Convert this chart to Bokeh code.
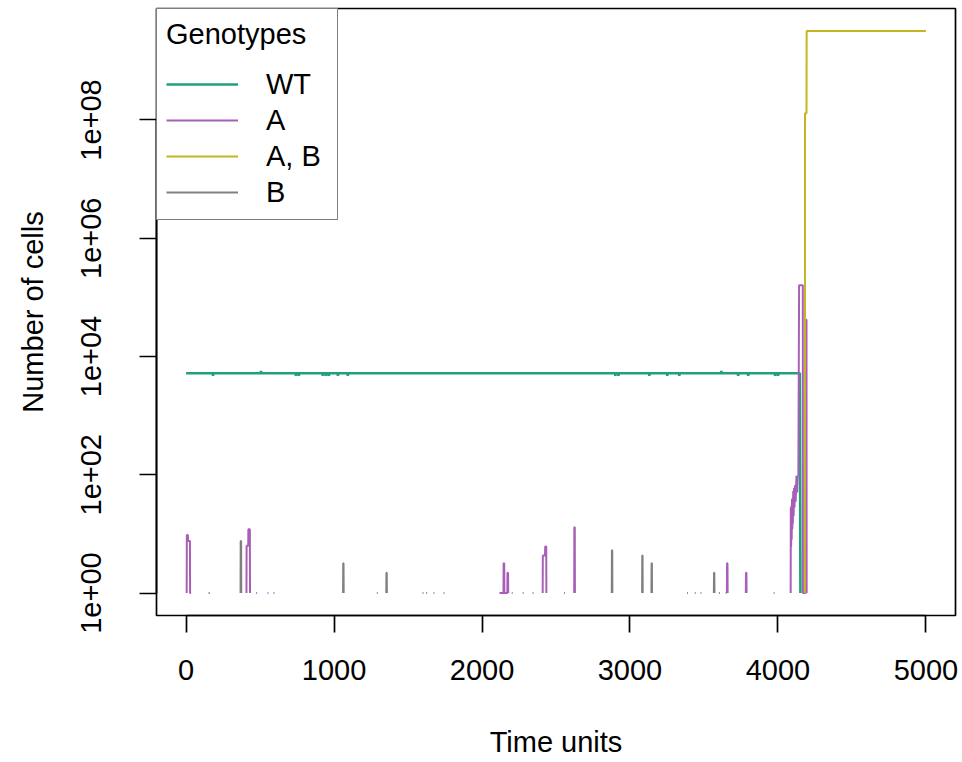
from bokeh.plotting import figure
from bokeh.models import Range1d, FixedTicker, CustomJSTickFormatter, Legend, LegendItem
from bokeh.embed import file_html
from bokeh.resources import INLINE

nan = float("nan")

# ---------------- data ----------------
genotypes = ["WT", "A", "A, B", "B"]
colors = ["#1FA07E", "#A95FB8", "#C8B41E", "#808080"]

x_ticks = [0, 1000, 2000, 3000, 4000, 5000]
y_ticks = [1, 1e2, 1e4, 1e6, 1e8]

wt_time = [0, 180, 182, 184, 504, 506, 508, 740, 742, 744, 760, 762, 764,
           922, 924, 926, 943, 945, 947, 963, 965, 967, 1024, 1026, 1028,
           1091, 1093, 1095, 2899, 2901, 2903, 2920, 2922, 2924, 3129, 3131, 3133,
           3250, 3252, 3254, 3331, 3333, 3335, 3616, 3618, 3620, 3729, 3731, 3733,
           3797, 3799, 3801, 3979, 3981, 3983, 3999, 4001, 4003, 4148, 4152]
wt_cells = [5200, 5200, 4700, 5200, 5200, 5700, 5200, 5200, 4700, 5200, 5200, 4700, 5200,
            5200, 4700, 5200, 5200, 4700, 5200, 5200, 4700, 5200, 5200, 4700, 5200,
            5200, 4700, 5200, 5200, 4700, 5200, 5200, 4700, 5200, 5200, 4700, 5200,
            5200, 4700, 5200, 5200, 4700, 5200, 5200, 5700, 5200, 5200, 4700, 5200,
            5200, 4700, 5200, 5200, 4700, 5200, 5200, 4700, 5200, 5200, 1]

a_time = [4, 5, 12, 13, 26, 27, 34, nan,
          152, 160, nan,
          408, 409, 420, 421, 431, 432, nan,
          474, 480, nan,
          550, 556, nan,
          1598, 1604, nan,
          1623, 1629, nan,
          2118, 2145, 2146, 2150, 2151, 2171, 2172, 2176, 2177, nan,
          2201, 2207, nan,
          2275, 2281, nan,
          2410, 2411, 2426, 2427, 2434, 2435, nan,
          2623, 2624, 2627, 2628, nan,
          3386, 3392, nan,
          3438, 3444, nan,
          3602, 3608, nan,
          3655, 3656, 3659, 3660, nan,
          3783, 3784, 3787, 3788, nan,
          4086, 4087, 4089, 4091, 4093, 4095, 4097, 4099, 4101, 4103, 4106, 4109,
          4112, 4116, 4120, 4125, 4130, 4134, 4138, 4143, 4168, 4169, 4189, 4190,
          4193, 4194, nan]
a_cells = [1, 9.6, 9.6, 7.6, 7.6, 1, 1, nan,
           1, 1, nan,
           1, 6.3, 6.3, 12, 12, 1, nan,
           1, 1, nan,
           1, 1, nan,
           1, 1, nan,
           1, 1, nan,
           1, 1, 3.2, 3.2, 1, 1, 2.2, 2.2, 1, nan,
           1, 1, nan,
           1, 1, nan,
           1, 4.3, 4.3, 6.1, 6.1, 1, nan,
           1, 12.9, 12.9, 1, nan,
           1, 1, nan,
           1, 1, nan,
           1, 1, nan,
           1, 3.2, 3.2, 1, nan,
           1, 2.2, 2.2, 1, nan,
           1, 28, 6, 30, 8, 39, 12, 40, 15, 53, 20, 60,
           28, 67, 35, 96, 50, 96, 96, 1.6e5, 1.6e5, 1, 1, 4.2e4,
           4.2e4, 1, nan]

ab_time = [4182, 4183, 4193, 4194, 5000]
ab_cells = [1, 1.3e8, 1.3e8, 3.2e9, 3.2e9]

b_time = [368, 369, 372, 373, nan,
          591, 597, nan,
          1061, 1062, 1064, 1065, nan,
          1289, 1295, nan,
          1353, 1354, 1356, 1357, nan,
          1672, 1678, nan,
          1740, 1746, nan,
          2342, 2348, nan,
          2554, 2560, nan,
          2877, 2878, 2880, 2881, nan,
          3082, 3083, 3085, 3086, nan,
          3145, 3146, 3148, 3149, nan,
          3477, 3483, nan,
          3567, 3568, 3570, 3571, nan,
          3647, 3653, nan,
          3971, 3977, nan]
b_cells = [1, 7.6, 7.6, 1, nan,
           1, 1, nan,
           1, 3.2, 3.2, 1, nan,
           1, 1, nan,
           1, 2.2, 2.2, 1, nan,
           1, 1, nan,
           1, 1, nan,
           1, 1, nan,
           1, 1, nan,
           1, 5.3, 5.3, 1, nan,
           1, 4.3, 4.3, 1, nan,
           1, 3.2, 3.2, 1, nan,
           1, 1, nan,
           1, 2.2, 2.2, 1, nan,
           1, 1, nan,
           1, 1, nan]

series = [(wt_time, wt_cells), (a_time, a_cells), (ab_time, ab_cells), (b_time, b_cells)]
widths = [2.6, 2, 2, 2]

# ---------------- figure ----------------
FONT = "Liberation Sans"
FS = "29px"

p = figure(width=958, height=760, output_backend="svg", toolbar_location=None,
           y_axis_type="log",
           x_range=Range1d(-200, 5200), y_range=Range1d(10 ** -0.38, 10 ** 9.885),
           min_border_left=156, min_border_right=3, min_border_top=8, min_border_bottom=143,
           x_axis_label="Time units", y_axis_label="Number of cells")
p.xgrid.visible = False
p.ygrid.visible = False
p.outline_line_color = "black"
p.outline_line_width = 1.7
p.background_fill_color = "white"
p.border_fill_color = "white"

for ax in (p.xaxis[0], p.yaxis[0]):
    ax.axis_line_color = "black"
    ax.axis_line_width = 1.7
    ax.major_tick_line_color = "black"
    ax.major_tick_line_width = 1.7
    ax.major_tick_in = 0
    ax.major_tick_out = 17
    ax.minor_tick_line_color = None
    ax.major_label_text_font = FONT
    ax.major_label_text_font_size = FS
    ax.major_label_text_color = "black"
    ax.axis_label_text_font = FONT
    ax.axis_label_text_font_size = FS
    ax.axis_label_text_font_style = "normal"
    ax.axis_label_text_color = "black"

p.xaxis.ticker = FixedTicker(ticks=x_ticks)
p.xaxis.bounds = (x_ticks[0], x_ticks[-1])
p.xaxis.major_label_standoff = 27
p.xaxis.axis_label_standoff = 43

p.yaxis.ticker = FixedTicker(ticks=y_ticks)
p.yaxis.bounds = (y_ticks[0], y_ticks[-1])
p.yaxis.formatter = CustomJSTickFormatter(code="""
const e = Math.round(Math.log10(tick));
return '1e+' + (e < 10 ? '0' : '') + e;
""")
p.yaxis.major_label_orientation = "vertical"
p.yaxis.major_label_standoff = 38
p.yaxis.axis_label_standoff = 30

renderers = []
for (t, n), c, w in zip(series, colors, widths):
    r = p.line(t, n, line_color=c, line_width=w)
    renderers.append(r)

legend = Legend(items=[LegendItem(label=g, renderers=[r]) for g, r in zip(genotypes, renderers)],
                title="Genotypes", location="top_left")
legend.margin = 0
legend.padding = 9
legend.spacing = 0
legend.glyph_width = 72
legend.glyph_height = 36
legend.label_height = 36
legend.label_width = 62
legend.label_standoff = 28
legend.label_text_font = FONT
legend.label_text_font_size = FS
legend.label_text_color = "black"
legend.title_text_font = FONT
legend.title_text_font_size = FS
legend.title_text_font_style = "normal"
legend.title_text_color = "black"
legend.title_standoff = 15
legend.border_line_color = "black"
legend.border_line_width = 1.7
legend.background_fill_alpha = 1
legend.background_fill_color = "white"
p.add_layout(legend)

open("out.html", "w").write(file_html(p, INLINE))
